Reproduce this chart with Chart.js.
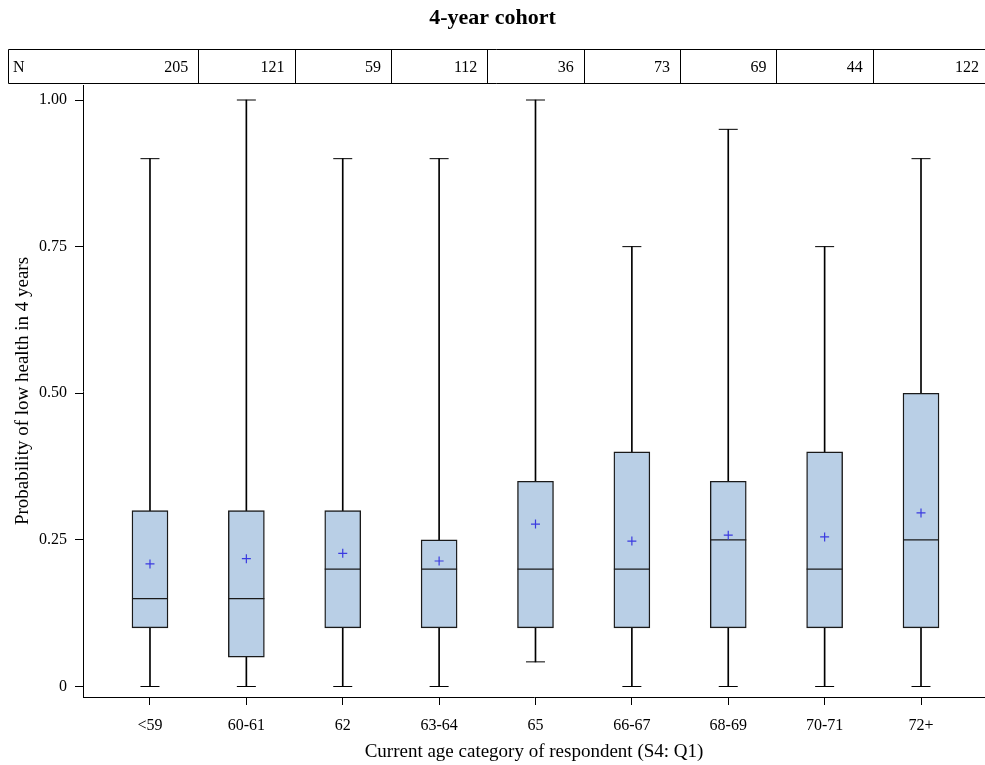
<!DOCTYPE html>
<html>
<head>
<meta charset="utf-8">
<script src="https://cdn.jsdelivr.net/npm/chart.js@4/dist/chart.umd.min.js"></script>
<style>
    body { margin: 0; background: #fff; }
    canvas { display: block; }
</style>
</head>
<body>
<canvas id="boxChart" width="985" height="765"></canvas>
<script>
    // data
    const ageGroups = ['<59', '60-61', '62', '63-64', '65', '66-67', '68-69', '70-71', '72+'];
    const counts = [205, 121, 59, 112, 36, 73, 69, 44, 122];
    const whiskerLow = [0, 0, 0, 0, 0.042, 0, 0, 0, 0];
    const q1 = [0.10, 0.05, 0.10, 0.10, 0.10, 0.10, 0.10, 0.10, 0.10];
    const medians = [0.15, 0.15, 0.20, 0.20, 0.20, 0.20, 0.25, 0.20, 0.25];
    const q3 = [0.30, 0.30, 0.30, 0.25, 0.35, 0.40, 0.35, 0.40, 0.50];
    const whiskerHigh = [0.90, 1.00, 0.90, 0.90, 1.00, 0.75, 0.95, 0.75, 0.90];
    const means = [0.209, 0.218, 0.227, 0.214, 0.277, 0.248, 0.258, 0.255, 0.296];
    const yTicks = [0, 0.25, 0.5, 0.75, 1];

    Chart.defaults.font.family = "'Liberation Serif', 'Times New Roman', serif";
    Chart.defaults.color = '#000';

    const points = values => values.map((v, i) => ({ x: i, y: v }));

    //N table above the plot
    const countTable = {
        id: 'countTable',
        afterDraw(chart) {
            const ctx = chart.ctx;
            const x = chart.scales.x;
            const top = 49.5, bottom = 83.5;
            ctx.save();
            ctx.strokeStyle = '#000';
            ctx.lineWidth = 1;
            ctx.beginPath();
            ctx.moveTo(chart.width, top);
            ctx.lineTo(8.5, top);
            ctx.lineTo(8.5, bottom);
            ctx.lineTo(chart.width, bottom);
            for (let i = 0; i < ageGroups.length - 1; i++) {
                const px = Math.round(x.getPixelForValue(i + 0.5)) + 0.5;
                ctx.moveTo(px, top);
                ctx.lineTo(px, bottom);
            }
            ctx.stroke();

            ctx.fillStyle = '#000';
            ctx.font = "16px 'Liberation Serif'";
            ctx.textBaseline = 'middle';
            ctx.textAlign = 'left';
            ctx.fillText('N', 13, 68);
            ctx.textAlign = 'right';
            counts.forEach((n, i) => {
                // last cell runs off the right edge
                const right = i < counts.length - 1 ? x.getPixelForValue(i + 0.5) - 10 : chart.width - 6;
                ctx.fillText(String(n), right, 68);
            });
            ctx.restore();
        }
    };

    const ctx = document.getElementById('boxChart');

    const boxChart = new Chart(ctx, {
        type: 'bar',
        data: {
            datasets: [
                {
                    label: 'whisker',
                    data: ageGroups.map((g, i) => ({ x: i, y: [whiskerLow[i], whiskerHigh[i]] })),
                    backgroundColor: '#000',
                    borderWidth: 0,
                    barThickness: 1,
                    grouped: false,
                    order: 5
                },
                {
                    type: 'scatter',
                    label: 'low cap',
                    data: points(whiskerLow),
                    pointStyle: 'line',
                    radius: 9.5,
                    borderColor: '#000',
                    borderWidth: 1,
                    order: 4
                },
                {
                    type: 'scatter',
                    label: 'high cap',
                    data: points(whiskerHigh),
                    pointStyle: 'line',
                    radius: 9.5,
                    borderColor: '#000',
                    borderWidth: 1,
                    order: 4
                },
                {
                    label: 'box',
                    data: ageGroups.map((g, i) => ({ x: i, y: [q1[i], q3[i]] })),
                    backgroundColor: '#b9cfe6',
                    borderColor: '#1a1a1a',
                    borderWidth: 1.4,
                    borderSkipped: false,
                    barThickness: 36,
                    grouped: false,
                    order: 3
                },
                {
                    type: 'scatter',
                    label: 'median',
                    data: points(medians),
                    pointStyle: 'line',
                    radius: 18,
                    borderColor: '#1a1a1a',
                    borderWidth: 1.3,
                    order: 2
                },
                {
                    type: 'scatter',
                    label: 'mean',
                    data: points(means),
                    pointStyle: 'cross',
                    radius: 4.5,
                    borderColor: '#3a3ae0',
                    borderWidth: 1.2,
                    order: 1
                }
            ]
        },
        options: {
            responsive: false,
            devicePixelRatio: 1,
            animation: false,
            layout: {
                autoPadding: false,
                padding: { left: 0, right: 0, bottom: 0, top: 0 }
            },
            plugins: {
                legend: { display: false },
                tooltip: { enabled: false },
                title: {
                    display: true,
                    text: '4-year cohort',
                    font: { size: 22, weight: 'bold' },
                    padding: { top: 5, bottom: 53.6 }
                }
            },
            scales: {
                x: {
                    type: 'linear',
                    offset: false,
                    min: -0.695,
                    max: 8.664,
                    afterBuildTicks: scale => {
                        scale.ticks = ageGroups.map((g, i) => ({ value: i }));
                    },
                    afterFit: scale => {
                        scale.height = 68;
                        scale.paddingLeft = 0;
                        scale.paddingRight = 0;
                    },
                    ticks: {
                        callback: v => ageGroups[v],
                        font: { size: 16 },
                        padding: 11,
                        maxRotation: 0,
                        autoSkip: false
                    },
                    grid: {
                        offset: false,
                        drawOnChartArea: false,
                        tickLength: 8,
                        color: '#000'
                    },
                    border: { color: '#000', width: 1 },
                    title: {
                        display: true,
                        text: 'Current age category of respondent (S4: Q1)',
                        font: { size: 19 },
                        padding: { top: 0, bottom: 1.6 }
                    }
                },
                y: {
                    min: -0.0179,
                    max: 1.0256,
                    afterBuildTicks: scale => {
                        scale.ticks = yTicks.map(v => ({ value: v }));
                    },
                    afterFit: scale => {
                        scale.width = 83;
                        scale.paddingTop = 0;
                        scale.paddingBottom = 0;
                    },
                    ticks: {
                        callback: v => (v === 0 ? '0' : v.toFixed(2)),
                        font: { size: 16 },
                        padding: 8
                    },
                    grid: {
                        drawOnChartArea: false,
                        tickLength: 8,
                        color: '#000'
                    },
                    border: { color: '#000', width: 1 },
                    title: {
                        display: true,
                        text: 'Probability of low health in 4 years',
                        font: { size: 19 },
                        padding: { top: 11.6, bottom: 0 }
                    }
                }
            }
        },
        plugins: [countTable]
    });
</script>
</body>
</html>
